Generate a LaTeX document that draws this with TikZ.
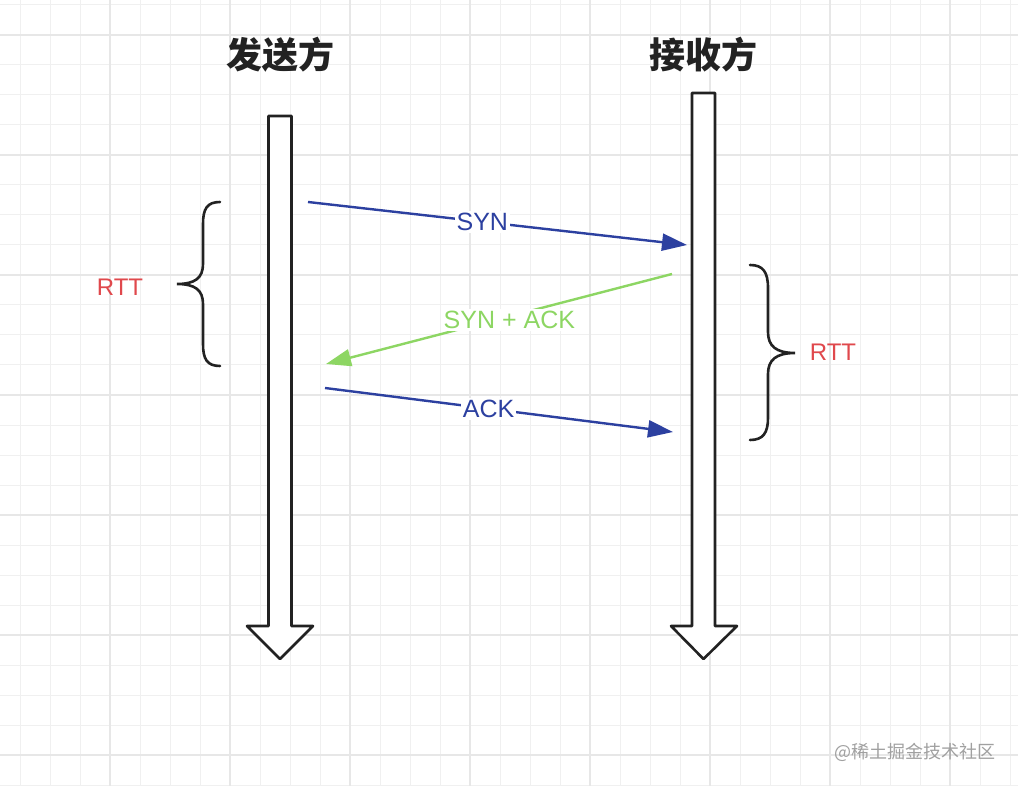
\documentclass[tikz,border=0pt]{standalone}
\usepackage{fontspec}
\setmainfont{Liberation Sans}
\newfontfamily\cjkfont{Noto Sans CJK SC}
\usepackage{tikz}
\usepackage{xcolor}
\usetikzlibrary{arrows.meta}
\definecolor{hsblue}{RGB}{44,64,160}
\definecolor{hsgreen}{RGB}{141,214,99}
\definecolor{hsred}{RGB}{224,72,76}
\definecolor{hsink}{RGB}{34,34,34}
\definecolor{hsgrid}{RGB}{240,240,240}
\definecolor{hsgridbold}{RGB}{231,231,231}
\definecolor{hsmark}{RGB}{160,160,160}
\tikzset{
  hstitle/.style={font=\cjkfont\bfseries\fontsize{36}{40}\selectfont, text=hsink, inner sep=0pt},
  hslife/.style={draw=hsink, line width=2.6pt, fill=white, line join=round},
  hsbrace/.style={draw=hsink, line width=2.6pt, line cap=round},
  hsrtt/.style={font=\fontsize{24}{28}\selectfont, text=hsred, inner sep=0pt},
  hsmsg/.style={font=\fontsize{25}{29}\selectfont, fill=white, inner sep=2pt},
  hsarr/.style={-{Triangle[length=25pt, width=17pt]}, line width=2.4pt, draw=hsblue},
  hsarrgreen/.style={-{Triangle[length=25pt, width=17pt]}, line width=2.4pt, draw=hsgreen}
}

\begin{document}
\begin{tikzpicture}[x=1pt, y=-1pt]
  \useasboundingbox[fill=white] (0,0) rectangle (1018,786);
  \foreach \gx in {20,50,...,1010} \draw[hsgrid, line width=1pt] (\gx,0) -- (\gx,786);
  \foreach \gy in {5,35,...,785} \draw[hsgrid, line width=1pt] (0,\gy) -- (1018,\gy);
  \foreach \gx in {110,230,...,950} \draw[hsgridbold, line width=1.5pt] (\gx,0) -- (\gx,786);
  \foreach \gy in {35,155,...,755} \draw[hsgridbold, line width=1.5pt] (0,\gy) -- (1018,\gy);

  \node[hstitle] (snd) at (280,55) {发送方};
  \node[hstitle] (rcv) at (703,55) {接收方};
  \draw[hslife] (268.5,116) -- (268.5,626) -- (247,626) -- (280,659) -- (313,626) -- (291.5,626) -- (291.5,116) -- cycle;
  \draw[hslife] (692,93) -- (692,626) -- (671,626) -- (703.5,659) -- (737,626) -- (715,626) -- (715,93) -- cycle;

  \coordinate (syn-s) at (308,202);
  \coordinate (syn-e) at (687,245);
  \coordinate (sa-s) at (672,274);
  \coordinate (sa-e) at (326,364);
  \coordinate (ack-s) at (325,388);
  \coordinate (ack-e) at (673,432);
  \draw[hsarr] (syn-s) -- node[hsmsg, text=hsblue, pos=.46] (syn) {SYN} (syn-e);
  \draw[hsarrgreen] (sa-s) -- node[hsmsg, text=hsgreen, pos=.47, yshift=-4pt] (sa) {SYN + ACK} (sa-e);
  \draw[hsarr] (ack-s) -- node[hsmsg, text=hsblue, pos=.47] (ack) {ACK} (ack-e);

  \draw[hsbrace] (220,202) .. controls (207,202) and (203,209) .. (203,224) -- (203,264) .. controls (203,278) and (195,284) .. (177,284)
    .. controls (195,284) and (203,290) .. (203,304) -- (203,344) .. controls (203,359) and (207,366) .. (220,366);
  \node[hsrtt] (rtt-l) at (120,287) {RTT};
  \draw[hsbrace] (750,265) .. controls (763,265) and (768,272) .. (768,288) -- (768,332) .. controls (768,346) and (776,353) .. (795,353)
    .. controls (776,353) and (768,360) .. (768,374) -- (768,418) .. controls (768,433) and (763,440) .. (750,440);
  \node[hsrtt] (rtt-r) at (833,352) {RTT};

  \node[font=\cjkfont\fontsize{18}{22}\selectfont, text=hsmark, inner sep=0pt] (mark) at (915,752) {@稀土掘金技术社区};
\end{tikzpicture}
\end{document}
